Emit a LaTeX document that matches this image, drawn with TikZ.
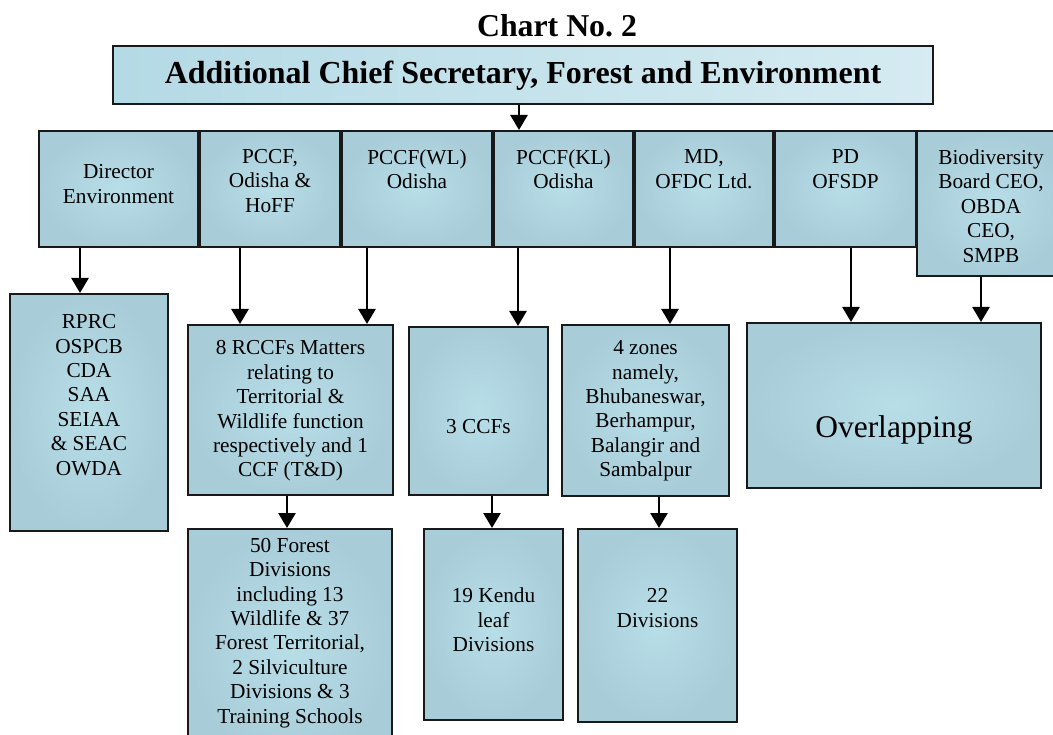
\documentclass[tikz,border=0pt]{standalone}
\usepackage{fontspec}
\setmainfont{Liberation Serif}
\usetikzlibrary{arrows.meta,shadings}
\definecolor{boxout}{RGB}{168,205,217}
\definecolor{boxin}{RGB}{184,222,232}
\definecolor{topl}{RGB}{180,218,229}
\definecolor{topr}{RGB}{214,235,242}
\newcommand\bodyfont{\fontsize{21.3}{24.4}\selectfont}
\newcommand\orgbox[6][]{\node[obox,#1,minimum width={#4-#2},minimum height={#5-#3}] (#6) at ({(#2+#4)/2},{(#3+#5)/2}) {};}
\tikzset{
  obox/.style={draw=black!90,line width=2pt,rectangle,inner sep=0pt,shading=radial,inner color=boxin,outer color=boxout},
  tbox/.style={draw=black!90,line width=2pt,rectangle,inner sep=0pt,left color=topl,right color=topr},
  txt/.style={font=\bodyfont,align=center,inner sep=0pt},
  arr/.style={line width=2.6pt,-{Triangle[width=17pt,length=15pt]}}
}
\begin{document}
\begin{tikzpicture}[x=1pt,y=-1pt]
\useasboundingbox (0,0) rectangle (1053,735);
\clip (0,0) rectangle (1053,735);
% title
\node[font=\fontsize{31.8}{36}\selectfont\bfseries,inner sep=0pt] (title) at (557,26) {Chart No.\ 2};
\orgbox[tbox]{113}{46}{933}{104}{acs}
\node[font=\fontsize{32}{36}\selectfont\bfseries,inner sep=0pt] (acst) at (523,76) {Additional Chief Secretary, Forest and Environment};
% top row
\orgbox{39}{131}{198}{247}{dir}
\orgbox{200}{131}{340}{247}{pccf}
\orgbox{342}{131}{492}{247}{wl}
\orgbox{494}{131}{633}{247}{kl}
\orgbox{635}{131}{773}{247}{md}
\orgbox{775}{131}{916}{247}{pd}
\orgbox{917}{131}{1066}{276}{bio}
\node[txt] (dirt) at (118.5,184) {Director\\Environment};
\node[txt] (pccft) at (270,181) {PCCF,\\Odisha \&\\HoFF};
\node[txt] (wlt) at (417,169) {PCCF(WL)\\Odisha};
\node[txt] (klt) at (563.5,169) {PCCF(KL)\\Odisha};
\node[txt] (mdt) at (704,169) {MD,\\OFDC Ltd.};
\node[txt] (pdt) at (845.5,169) {PD\\OFSDP};
\node[txt] (biot) at (991,206) {Biodiversity\\Board CEO,\\OBDA\\CEO,\\SMPB};
% second row
\orgbox{10}{294}{168}{531}{rprc}
\orgbox{188}{325}{393}{495}{rccf}
\orgbox{409}{327}{548}{495}{ccf}
\orgbox{562}{325}{729}{496}{zones}
\orgbox{747}{323}{1041}{488}{ovl}
\node[txt] (rprct) at (89,395) {RPRC\\OSPCB\\CDA\\SAA\\SEIAA\\\& SEAC\\OWDA};
\node[txt] (rccft) at (290.5,411) {8 RCCFs Matters\\relating to\\Territorial \&\\Wildlife function\\respectively and 1\\CCF (T\&D)};
\node[txt] (ccft) at (478.5,427) {3 CCFs};
\node[txt] (zonest) at (645.5,411) {4 zones\\namely,\\Bhubaneswar,\\Berhampur,\\Balangir and\\Sambalpur};
\node[font=\fontsize{31.5}{36}\selectfont,inner sep=0pt] (ovlt) at (894,430) {Overlapping};
% third row
\orgbox{188}{529}{392}{760}{forest}
\orgbox{424}{529}{563}{720}{kendu}
\orgbox{578}{529}{737}{722}{div}
\node[txt] (forestt) at (290,633) {50 Forest\\Divisions\\including 13\\Wildlife \& 37\\Forest Territorial,\\2 Silviculture\\Divisions \& 3\\Training Schools};
\node[txt] (kendut) at (493.5,620) {19 Kendu\\leaf\\Divisions};
\node[txt] (divt) at (657.5,608) {22\\Divisions};
% connector x positions
\coordinate (x1) at (519,0);
\coordinate (x2) at (80,0);
\coordinate (x3) at (240,0);
\coordinate (x4) at (367,0);
\coordinate (x5) at (518,0);
\coordinate (x6) at (670,0);
\coordinate (x7) at (851,0);
\coordinate (x8) at (981,0);
\coordinate (x9) at (287,0);
\coordinate (x10) at (492,0);
\coordinate (x11) at (659,0);
% connectors
\draw[arr] (acs.south -| x1) -- (kl.north -| x1);
\draw[arr] (dir.south -| x2) -- (rprc.north -| x2);
\draw[arr] (pccf.south -| x3) -- (rccf.north -| x3);
\draw[arr] (wl.south -| x4) -- (rccf.north -| x4);
\draw[arr] (kl.south -| x5) -- (ccf.north -| x5);
\draw[arr] (md.south -| x6) -- (zones.north -| x6);
\draw[arr] (pd.south -| x7) -- (ovl.north -| x7);
\draw[arr] (bio.south -| x8) -- (ovl.north -| x8);
\draw[arr] (rccf.south -| x9) -- (forest.north -| x9);
\draw[arr] (ccf.south -| x10) -- (kendu.north -| x10);
\draw[arr] (zones.south -| x11) -- (div.north -| x11);
\end{tikzpicture}
\end{document}
